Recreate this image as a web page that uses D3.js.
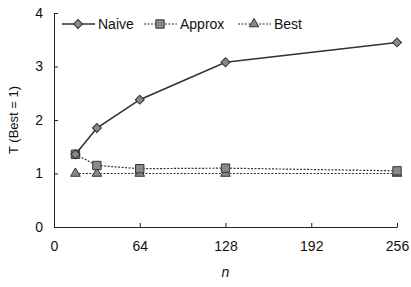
<!DOCTYPE html>
<meta charset="utf-8">
<style>
  body { margin: 0; background: #fff; }
  text { font-family: "Liberation Sans", Arial, sans-serif; fill: #111; }
</style>
<body>
<div id="chart"></div>
<script src="https://d3js.org/d3.v7.min.js"></script>
<script>
// data
var nValues = [16, 32, 64, 128, 256];
var naive = [1.36, 1.85, 2.38, 3.08, 3.45];
var approx = [1.36, 1.15, 1.09, 1.1, 1.05];
var best = [1.0, 1.0, 1.0, 1.0, 1.0];
var xTicks = [0, 64, 128, 192, 256];
var yTicks = [0, 1, 2, 3, 4];
var seriesNames = ["Naive", "Approx", "Best"];

var width = 411, height = 287;
var margin = {top: 13, right: 14, bottom: 60, left: 54};

var svg = d3.select("#chart").append("svg")
    .attr("width", width)
    .attr("height", height);

var x = d3.scaleLinear().domain([0, 256]).range([margin.left, width - margin.right]);
var y = d3.scaleLinear().domain([0, 4]).range([height - margin.bottom, margin.top]);

// axes (ticks point inward)
var yAxis = svg.append("g")
    .attr("transform", "translate(" + margin.left + ",0)")
    .call(d3.axisLeft(y).tickValues(yTicks).tickFormat(d3.format("d"))
      .tickSizeInner(-4).tickSizeOuter(0).tickPadding(11));
var xAxis = svg.append("g")
    .attr("transform", "translate(0," + y(0) + ")")
    .call(d3.axisBottom(x).tickValues(xTicks).tickFormat(d3.format("d"))
      .tickSizeInner(-4).tickSizeOuter(0).tickPadding(14));
[xAxis, yAxis].forEach(function(a) {
  a.select(".domain").attr("stroke", "#222");
  a.selectAll(".tick line").attr("stroke", "#222");
  a.selectAll("text").style("font-size", "14px").attr("fill", "#111");
});

// axis titles
svg.append("text")
    .attr("transform", "translate(18," + y(2) + ") rotate(-90)")
    .attr("text-anchor", "middle")
    .style("font-size", "13px")
    .text("T (Best = 1)");
svg.append("text")
    .attr("x", x(128))
    .attr("y", 277)
    .attr("text-anchor", "middle")
    .style("font-size", "14px")
    .style("font-style", "italic")
    .text("n");

var series = [
  {name: "Naive", values: naive, dash: null, width: 1.6, shape: d3.symbolSquare, rot: 45, size: 40},
  {name: "Approx", values: approx, dash: "2,1.5", width: 1.2, shape: d3.symbolSquare, rot: 0, size: 70},
  {name: "Best", values: best, dash: "2,1.5", width: 1.2, shape: d3.symbolTriangle, rot: 0, size: 40}
];

var line = d3.line()
    .x(function(d) { return x(d[0]); })
    .y(function(d) { return y(d[1]); });

// draw Best first so the others sit on top
series.slice().reverse().forEach(function(s) {
  var pts = nValues.map(function(n, i) { return [n, s.values[i]]; });
  svg.append("path")
      .datum(pts)
      .attr("d", line)
      .attr("fill", "none")
      .attr("stroke", "#333")
      .attr("stroke-width", s.width)
      .attr("stroke-dasharray", s.dash);
  svg.selectAll(null)
      .data(pts)
      .enter().append("path")
      .attr("d", d3.symbol().type(s.shape).size(s.size))
      .attr("transform", function(d) {
        return "translate(" + x(d[0]) + "," + y(d[1]) + ") rotate(" + s.rot + ")";
      })
      .attr("fill", "#8a8a8a")
      .attr("stroke", "#333")
      .attr("stroke-width", 1);
});

// legend across the top
var legendX = [62, 144, 238];
series.forEach(function(s, i) {
  var g = svg.append("g").attr("transform", "translate(" + legendX[i] + ",24)");
  g.append("line")
      .attr("x1", 0).attr("x2", 33)
      .attr("stroke", "#333")
      .attr("stroke-width", s.width)
      .attr("stroke-dasharray", s.dash);
  g.append("path")
      .attr("d", d3.symbol().type(s.shape).size(s.size))
      .attr("transform", "translate(16,0) rotate(" + s.rot + ")")
      .attr("fill", "#8a8a8a")
      .attr("stroke", "#333");
  g.append("text")
      .attr("x", 36)
      .attr("y", 5)
      .style("font-size", "14px")
      .text(seriesNames[i]);
});
</script>
</body>
